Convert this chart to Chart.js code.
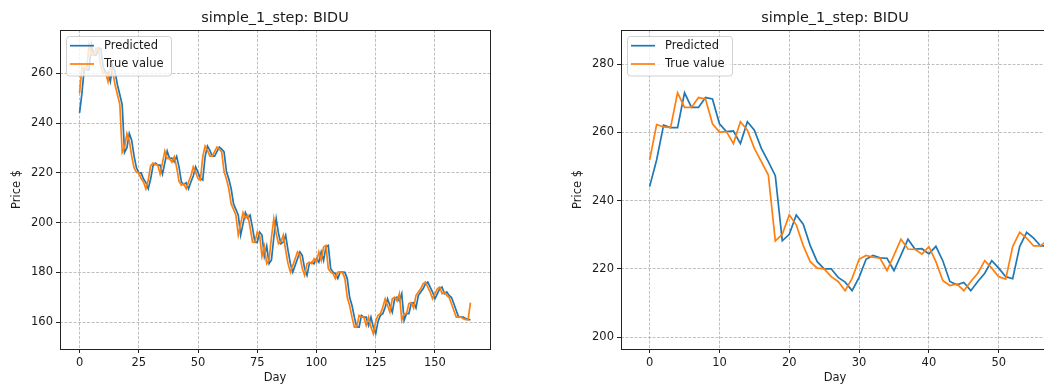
<!DOCTYPE html>
<html>
<head>
<meta charset="utf-8">
<script src="https://cdn.jsdelivr.net/npm/chart.js@4.4.0/dist/chart.umd.min.js"></script>
<style>
  html, body { margin: 0; padding: 0; background: #fff; overflow: hidden; }
  #wrap { position: relative; width: 1044px; height: 387px; overflow: hidden; }
  canvas { position: absolute; top: 0; }
  #left { left: 0; width: 522px; height: 387px; }
  #right { left: 522px; width: 538px; height: 387px; }
</style>
</head>
<body>
<div id="wrap">
  <canvas id="left" width="522" height="387"></canvas>
  <canvas id="right" width="538" height="387"></canvas>
</div>
<script>
const titleText = 'simple_1_step: BIDU';
const seriesNames = ['Predicted', 'True value'];

// one value per day (0..165)
const trueValue = [
  251.9, 262.3, 261.6, 261.4, 271.6, 267.3, 267.3, 270.2, 269.8, 262.5,
  260.1, 260.2, 256.7, 263.1, 260.6, 255.3, 251.4, 247.5, 228.2, 230.1,
  235.8, 232.9, 226.8, 222.1, 220.2, 220.0, 217.7, 216.3, 213.6, 217.2,
  222.8, 223.9, 223.4, 223.1, 219.5, 224.0, 228.7, 225.8, 225.7, 224.3,
  226.5, 222.1, 216.5, 215.1, 215.6, 213.6, 216.3, 218.7, 222.4, 220.2,
  217.7, 217.0, 226.5, 230.7, 229.0, 226.7, 226.7, 228.5, 230.3, 229.5,
  228.4, 220.5, 217.5, 213.6, 207.5, 205.3, 203.0, 195.0, 199.5, 204.0,
  201.8, 203.0, 198.0, 192.2, 192.0, 196.2, 195.0, 186.5, 190.5, 183.5,
  185.0, 194.0, 201.5, 195.5, 191.5, 192.2, 194.9, 188.8, 183.5, 180.1,
  182.8, 185.5, 188.2, 186.8, 181.5, 178.8, 183.5, 184.1, 183.5, 185.5,
  184.1, 188.2, 184.8, 190.2, 190.8, 181.5, 180.1, 179.5, 177.5, 180.1,
  180.1, 180.0, 177.5, 170.0, 166.7, 162.0, 158.0, 158.0, 162.7, 162.0,
  162.0, 158.7, 162.0, 158.0, 155.3, 160.3, 162.7, 163.4, 166.0, 169.4,
  166.7, 164.0, 169.4, 170.0, 168.5, 171.4, 160.7, 163.4, 163.4, 167.4,
  167.8, 165.7, 170.7, 172.1, 173.4, 175.4, 176.1, 174.1, 172.1, 169.4,
  171.4, 173.4, 174.1, 171.4, 172.1, 170.7, 169.9, 167.4, 164.7, 162.0,
  162.0, 162.0, 161.4, 161.0, 161.0, 167.8
];

const predicted = [
  244.1, 251.9, 262.1, 261.4, 261.4, 271.6, 267.3, 267.3, 270.2, 269.8,
  262.5, 260.2, 260.4, 256.7, 263.1, 260.6, 255.3, 251.4, 247.3, 228.2,
  230.1, 235.8, 233.1, 226.8, 222.1, 220.0, 220.0, 217.5, 216.1, 213.6,
  217.5, 222.8, 223.9, 223.2, 223.1, 219.5, 224.0, 228.7, 225.8, 225.9,
  224.4, 226.6, 222.3, 216.3, 215.3, 216.0, 213.6, 216.3, 218.7, 222.4,
  220.2, 217.7, 217.1, 226.5, 230.7, 229.0, 226.7, 226.7, 228.5, 230.3,
  229.5, 228.4, 220.5, 217.5, 213.6, 207.5, 205.3, 203.0, 195.0, 199.5,
  204.0, 201.8, 203.0, 198.0, 192.2, 192.0, 196.2, 195.0, 186.5, 190.5,
  183.5, 185.0, 194.0, 201.5, 195.5, 191.5, 192.2, 194.9, 188.8, 183.5,
  180.1, 182.8, 185.5, 188.2, 186.8, 181.5, 178.8, 183.5, 184.1, 183.5,
  185.5, 184.1, 188.2, 184.8, 190.2, 190.8, 181.5, 180.1, 179.5, 177.5,
  180.1, 180.1, 180.0, 177.5, 170.0, 166.7, 162.0, 158.0, 158.0, 162.7,
  162.0, 162.0, 158.7, 162.0, 158.0, 155.3, 160.3, 162.7, 163.4, 166.0,
  169.4, 166.7, 164.0, 169.4, 170.0, 168.5, 171.4, 160.7, 163.4, 163.4,
  167.4, 167.8, 165.7, 170.7, 172.1, 173.4, 175.4, 176.1, 174.1, 172.1,
  169.4, 171.4, 173.4, 174.1, 171.4, 172.1, 170.7, 169.9, 167.4, 164.7,
  162.0, 162.0, 162.0, 161.4, 161.0, 161.0
];

const leftXTicks = [0, 25, 50, 75, 100, 125, 150];
const leftYTicks = [160, 180, 200, 220, 240, 260];
const rightXTicks = [0, 10, 20, 30, 40, 50];
const rightYTicks = [200, 220, 240, 260, 280];

const BLUE = '#1f77b4';
const ORANGE = '#ff7f0e';
const FONT = '"DejaVu Sans", sans-serif';

Chart.defaults.font.family = FONT;
Chart.defaults.font.size = 11.5;
Chart.defaults.color = '#1a1a1a';

const toPoints = vals => vals.map((v, i) => ({ x: i, y: v }));

// box spines, title and legend, drawn like matplotlib does
const mplDecor = {
  id: 'mplDecor',
  afterDatasetsDraw(chart) {
    const { ctx, chartArea: a } = chart;
    ctx.save();

    ctx.strokeStyle = '#222';
    ctx.lineWidth = 1;
    ctx.strokeRect(Math.round(a.left) + 0.5, Math.round(a.top) + 0.5,
      Math.round(a.right - a.left), Math.round(a.bottom - a.top));

    ctx.fillStyle = '#1a1a1a';
    ctx.font = '14.4px ' + FONT;
    ctx.textAlign = 'center';
    ctx.textBaseline = 'alphabetic';
    ctx.fillText(titleText, (a.left + a.right) / 2, a.top - 8);

    // legend box
    const x = a.left + 6.5, y = a.top + 6.5, w = 105, h = 39.5, r = 3;
    ctx.beginPath();
    ctx.moveTo(x + r, y);
    ctx.arcTo(x + w, y, x + w, y + h, r);
    ctx.arcTo(x + w, y + h, x, y + h, r);
    ctx.arcTo(x, y + h, x, y, r);
    ctx.arcTo(x, y, x + w, y, r);
    ctx.closePath();
    ctx.fillStyle = 'rgba(255,255,255,0.8)';
    ctx.fill();
    ctx.strokeStyle = 'rgba(204,204,204,0.9)';
    ctx.stroke();

    const colors = [BLUE, ORANGE];
    const rows = [a.top + 15.7, a.top + 34];
    ctx.font = '11.5px ' + FONT;
    ctx.textAlign = 'left';
    ctx.textBaseline = 'middle';
    seriesNames.forEach((name, i) => {
      ctx.strokeStyle = colors[i];
      ctx.lineWidth = 1.7;
      ctx.beginPath();
      ctx.moveTo(a.left + 10, rows[i]);
      ctx.lineTo(a.left + 34, rows[i]);
      ctx.stroke();
      ctx.fillStyle = '#1a1a1a';
      ctx.fillText(name, a.left + 44, rows[i] + 0.5);
    });

    ctx.restore();
  }
};

function makeScale(min, max, ticks, title, size, isX) {
  return {
    type: 'linear',
    min: min,
    max: max,
    afterBuildTicks: s => { s.ticks = ticks.map(v => ({ value: v })); },
    afterFit: s => { if (isX) s.height = size; else s.width = size; },
    grid: {
      color: '#b0b0b0',
      lineWidth: 0.8,
      tickColor: '#222',
      tickLength: 4,
      tickWidth: 1,
      tickBorderDash: []
    },
    border: { display: false, dash: [3, 1.5] },
    ticks: {
      padding: 3,
      maxRotation: 0,
      autoSkip: false,
      callback: v => String(v)
    },
    title: {
      display: true,
      text: title,
      padding: isX ? { top: 0, bottom: 2 } : { top: 10, bottom: 0 }
    }
  };
}

function makeChart(id, xRange, yRange, xTicks, yTicks, padding) {
  return new Chart(document.getElementById(id), {
    type: 'line',
    data: {
      datasets: [
        { label: seriesNames[0], data: toPoints(predicted), borderColor: BLUE, order: 2 },
        { label: seriesNames[1], data: toPoints(trueValue), borderColor: ORANGE, order: 1 }
      ]
    },
    options: {
      responsive: false,
      animation: false,
      devicePixelRatio: 1,
      layout: { padding: padding },
      elements: {
        point: { radius: 0 },
        line: { tension: 0, borderWidth: 1.7 }
      },
      scales: {
        x: makeScale(xRange[0], xRange[1], xTicks, 'Day', 38, true),
        y: makeScale(yRange[0], yRange[1], yTicks, 'Price $', 60, false)
      },
      plugins: {
        legend: { display: false },
        tooltip: { enabled: false }
      }
    },
    plugins: [mplDecor]
  });
}

makeChart('left', [-8.25, 173.25], [149.2, 277.4], leftXTicks, leftYTicks,
  { top: 30, left: 0, right: 32, bottom: 0 });
makeChart('right', [-4.1, 57.2], [196.5, 290], rightXTicks, rightYTicks,
  { top: 30, left: 39, right: 11, bottom: 0 });
</script>
</body>
</html>
